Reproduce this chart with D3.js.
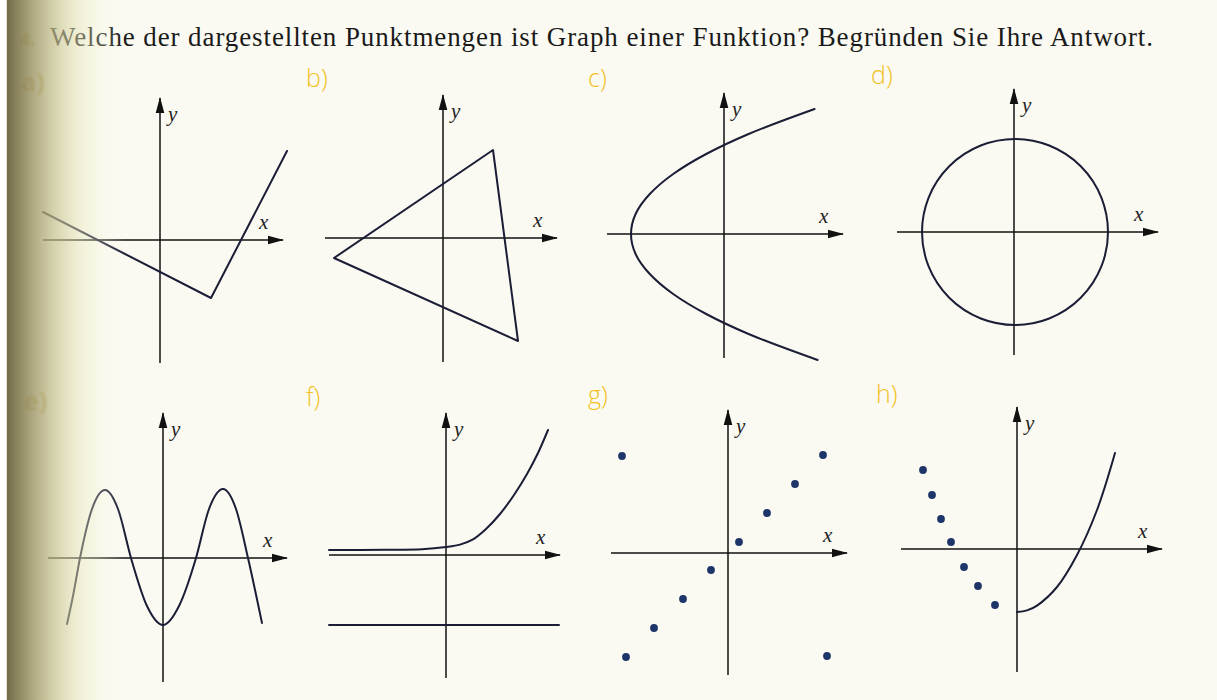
<!DOCTYPE html>
<html>
<head>
<meta charset="utf-8">
<script src="https://cdn.jsdelivr.net/npm/d3@7"></script>
<style>
body{margin:0;background:#fafaf2;overflow:hidden}
</style>
</head>
<body>
<div id="chart"></div>
<script>
var svgWidth=1217
var svgHeight=700
var unit=20   // pixels per axis unit in every small graph

var title="Welche der dargestellten Punktmengen ist Graph einer Funktion? Begründen Sie Ihre Antwort."
var taskNumber="4."
var panelNames=["a)","b)","c)","d)","e)","f)","g)","h)"]

// values, in axis units
var lineA=[[-5.85,1.4],[2.55,-2.9],[6.35,4.45]]
var triangleB=[[-5.45,-1.0],[2.5,4.4],[3.75,-5.15]]
var parabolaC=[[4.68,-6.3],[1.23,-5],[-0.89,-4],[-2.54,-3],[-3.71,-2],[-4.42,-1],[-4.65,0],
               [-4.42,1],[-3.71,2],[-2.54,3],[-0.89,4],[1.23,5],[4.53,6.25]]
var circleD=[0.05,0,4.65]   // cx, cy, r
var waveE=[[-4.8,-3.3],[-4.5,-1.9],[-4.15,0],[-3.55,2.45],[-2.9,3.4],[-2.25,2.45],[-1.6,0],
           [-0.8,-2.4],[0,-3.35],[0.8,-2.4],[1.65,0],[2.3,2.45],[3.0,3.45],[3.65,2.45],[4.25,0],[4.95,-3.25]]
var curveF=[[-5.85,0.25],[-3,0.26],[-1.2,0.29],[0,0.4],[0.7,0.52],[1.35,0.78],[2,1.3],
            [2.7,2.05],[3.4,3.0],[4.05,4.05],[4.6,5.1],[5.1,6.25]]
var lineF=[[-5.85,-3.5],[5.65,-3.5]]
var dotsG=[[-5.3,4.85],[-5.1,-5.2],[-3.7,-3.75],[-2.25,-2.3],[-0.85,-0.85],[0.55,0.55],
           [1.95,2.0],[3.35,3.45],[4.75,4.9],[4.95,-5.15]]
var dotsH=[[-4.7,3.95],[-4.25,2.7],[-3.8,1.5],[-3.3,0.35],[-2.65,-0.9],[-1.95,-1.85],[-1.1,-2.8]]
var curveH=[[0,-3.15],[0.5,-3.07],[1,-2.83],[2,-1.9],[3,-0.3],[4,1.95],[4.9,4.8]]

// where each graph sits, how far its axes reach, where its letter goes
var panels=[
    {ox:160, oy:240, xr:[-5.85,6.15], yr:[-6.15,7.1], lx:21, ly:91, faded:true},
    {ox:443, oy:238, xr:[-5.9,5.7], yr:[-6.2,7.15], lx:306, ly:87},
    {ox:724, oy:234, xr:[-5.85,5.95], yr:[-6.2,7.05], lx:588, ly:87},
    {ox:1014, oy:232, xr:[-5.85,7.2], yr:[-6.15,7.15], lx:871, ly:84},
    {ox:163, oy:558, xr:[-5.75,6.2], yr:[-6.2,7.25], lx:24, ly:410, faded:true},
    {ox:446, oy:555, xr:[-5.85,5.7], yr:[-6.15,7.1], lx:306, ly:406},
    {ox:728, oy:553, xr:[-5.85,5.95], yr:[-6.1,7.15], lx:588, ly:404},
    {ox:1017, oy:549, xr:[-5.8,7.25], yr:[-6.15,7.1], lx:876, ly:403}
]

var ink="#1b1d36"

var svg=d3.select("#chart")
    .append("svg")
    .attr("width", svgWidth)
    .attr("height", svgHeight)

var defs=svg.append("defs")

defs.append("marker")
    .attr("id","arrow")
    .attr("viewBox","0 -5 16 10")
    .attr("refX",15)
    .attr("refY",0)
    .attr("markerWidth",16)
    .attr("markerHeight",10)
    .attr("markerUnits","userSpaceOnUse")
    .attr("orient","auto")
    .append("path")
    .attr("d","M0,-4.3L16,0L0,4.3Z")
    .attr("fill","#111")

defs.append("filter").attr("id","blur")
    .append("feGaussianBlur").attr("stdDeviation",1.2)

var shade=defs.append("linearGradient").attr("id","shade")
    .attr("x1","0").attr("x2","1").attr("y1","0").attr("y2","0")
var shadeStops=[[0,"#ffffff",1],[0.05,"#ffffff",1],[0.06,"#6d6743",0.96],[0.2,"#918a5e",0.88],
                [0.4,"#bdb887",0.72],[0.6,"#e2dfae",0.5],[0.8,"#f4f2d2",0.28],[1,"#fafaf0",0]]
shadeStops.forEach(s=>{
    shade.append("stop").attr("offset",s[0]).attr("stop-color",s[1]).attr("stop-opacity",s[2])
})

svg.append("rect").attr("width",svgWidth).attr("height",svgHeight).attr("fill","#fafaf2")

// heading
svg.append("text")
    .attr("x",50).attr("y",46)
    .attr("font-family","'Liberation Serif', 'DejaVu Serif', serif")
    .attr("font-size",27)
    .attr("fill","#1a1a1a")
    .attr("textLength",1103)
    .attr("lengthAdjust","spacing")
    .text(title)

svg.append("text")
    .attr("x",20).attr("y",46)
    .attr("font-family","'Open Sans', sans-serif")
    .attr("font-weight",700)
    .attr("font-size",17)
    .attr("fill","#c9891e")
    .attr("opacity",0.7)
    .attr("filter","url(#blur)")
    .text(taskNumber)

function drawPanel(p, i){
    var x=d3.scaleLinear().domain([0,1]).range([p.ox, p.ox+unit])
    var y=d3.scaleLinear().domain([0,1]).range([p.oy, p.oy-unit])
    var g=svg.append("g")
    var line=d3.line().x(d=>x(d[0])).y(d=>y(d[1]))

    // letter
    g.append("text")
        .attr("x",p.lx).attr("y",p.ly)
        .attr("font-family","'Open Sans', sans-serif")
        .attr("font-weight",p.faded?700:300)
        .attr("font-size",25)
        .attr("fill",p.faded?"#c08a22":"#f3c124")
        .attr("opacity",p.faded?0.6:1)
        .attr("filter",p.faded?"url(#blur)":null)
        .text(panelNames[i])

    // axes
    g.append("line")
        .attr("x1",x(p.xr[0])).attr("x2",x(p.xr[1]))
        .attr("y1",y(0)).attr("y2",y(0))
        .attr("stroke","#111").attr("stroke-width",1.5)
        .attr("marker-end","url(#arrow)")
    g.append("line")
        .attr("x1",x(0)).attr("x2",x(0))
        .attr("y1",y(p.yr[0])).attr("y2",y(p.yr[1]))
        .attr("stroke","#111").attr("stroke-width",1.5)
        .attr("marker-end","url(#arrow)")

    g.append("text")
        .attr("x",x(p.xr[1])-24).attr("y",y(0)-11)
        .attr("font-family","'Liberation Serif', 'DejaVu Serif', serif")
        .attr("font-style","italic")
        .attr("font-size",21)
        .attr("fill","#222")
        .text("x")
    g.append("text")
        .attr("x",x(0)+8).attr("y",y(p.yr[1])+23)
        .attr("font-family","'Liberation Serif', 'DejaVu Serif', serif")
        .attr("font-style","italic")
        .attr("font-size",21)
        .attr("fill","#222")
        .text("y")

    var stroke=function(sel){
        return sel.attr("fill","none").attr("stroke",ink).attr("stroke-width",2)
            .attr("stroke-linejoin","round").attr("stroke-linecap","round")
    }
    var dots=function(data){
        g.selectAll(".dot").data(data).enter()
            .append("circle")
            .attr("class","dot")
            .attr("cx",d=>x(d[0]))
            .attr("cy",d=>y(d[1]))
            .attr("r",3.9)
            .attr("fill","#1d3568")
    }

    if(i==0) g.append("path").datum(lineA).attr("d",line).call(stroke)
    if(i==1) g.append("path").datum(triangleB).attr("d",line.curve(d3.curveLinearClosed)).call(stroke)
    if(i==2) g.append("path").datum(parabolaC).attr("d",line.curve(d3.curveMonotoneY)).call(stroke)
    if(i==3) g.append("circle")
        .attr("cx",x(circleD[0])).attr("cy",y(circleD[1]))
        .attr("r",x(circleD[2])-x(0)).call(stroke)
    if(i==4) g.append("path").datum(waveE).attr("d",line.curve(d3.curveMonotoneX)).call(stroke)
    if(i==5){
        g.append("path").datum(curveF).attr("d",line.curve(d3.curveCatmullRom.alpha(0.5))).call(stroke)
        g.append("path").datum(lineF).attr("d",d3.line().x(d=>x(d[0])).y(d=>y(d[1]))).call(stroke)
    }
    if(i==6) dots(dotsG)
    if(i==7){
        dots(dotsH)
        g.append("path").datum(curveH).attr("d",line.curve(d3.curveCatmullRom.alpha(0.5))).call(stroke)
    }
}

panels.forEach(drawPanel)

// page bending into the binding on the left
svg.append("rect")
    .attr("x",0).attr("y",0)
    .attr("width",125).attr("height",svgHeight)
    .attr("fill","url(#shade)")
</script>
</body>
</html>
